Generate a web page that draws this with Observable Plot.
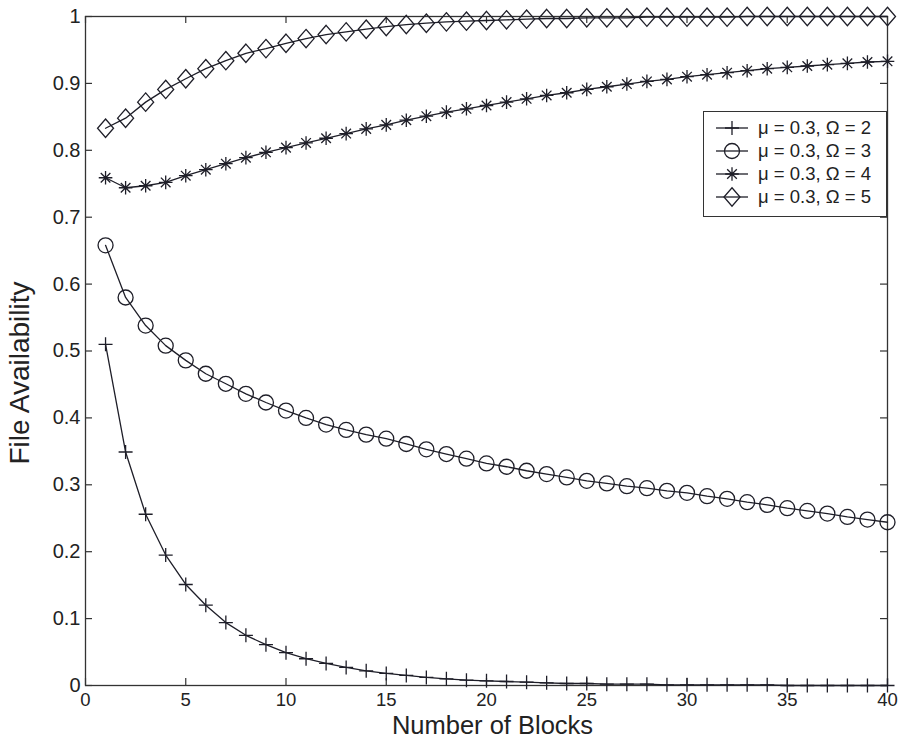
<!DOCTYPE html>
<html>
<head>
<meta charset="utf-8">
<script src="https://cdn.jsdelivr.net/npm/d3@7"></script>
<script src="https://cdn.jsdelivr.net/npm/@observablehq/plot@0.6"></script>
<style>
  html, body { margin: 0; padding: 0; background: #fff; }
  #wrap { position: relative; width: 902px; height: 741px; font-family: "Liberation Sans", Arial, Helvetica, sans-serif; }
  #legend { position: absolute; left: 703px; top: 111px; width: 184px; height: 106px; box-sizing: border-box;
            border: 1.3px solid #333; background: #fff; padding-top: 4px; }
  .row { display: flex; align-items: center; height: 23px; padding-left: 11px; }
  .row svg { display: block; }
  .row span { margin-left: 9px; font-size: 18.5px; color: #222; white-space: nowrap; }
</style>
</head>
<body>
<div id="wrap"></div>
<script>
// ---- data ----
const blocks = [1,2,3,4,5,6,7,8,9,10,11,12,13,14,15,16,17,18,19,20,21,22,23,24,25,26,27,28,29,30,31,32,33,34,35,36,37,38,39,40];
const omega2 = [0.510,0.349,0.256,0.195,0.151,0.120,0.094,0.075,0.061,0.049,0.040,0.033,0.027,0.022,0.018,0.015,0.012,0.010,0.008,0.007,0.006,0.005,0.004,0.003,0.003,0.002,0.002,0.002,0.001,0.001,0.001,0.001,0.001,0.001,0.000,0.000,0.000,0.000,0.000,0.000];
const omega3 = [0.658,0.580,0.538,0.508,0.486,0.466,0.451,0.436,0.423,0.411,0.400,0.390,0.382,0.375,0.369,0.361,0.353,0.346,0.339,0.332,0.327,0.321,0.316,0.311,0.306,0.302,0.298,0.295,0.291,0.288,0.283,0.279,0.274,0.270,0.265,0.261,0.257,0.252,0.248,0.244];
const omega4 = [0.759,0.744,0.747,0.752,0.762,0.771,0.780,0.789,0.797,0.804,0.811,0.818,0.825,0.832,0.838,0.845,0.851,0.857,0.862,0.867,0.872,0.877,0.882,0.886,0.891,0.895,0.899,0.903,0.906,0.910,0.913,0.916,0.919,0.922,0.924,0.926,0.928,0.930,0.932,0.933];
const omega5 = [0.833,0.848,0.872,0.891,0.907,0.922,0.934,0.945,0.952,0.960,0.967,0.973,0.977,0.981,0.985,0.988,0.990,0.992,0.993,0.994,0.995,0.996,0.997,0.997,0.998,0.998,0.998,0.999,0.999,0.999,0.999,0.999,1.000,1.000,1.000,1.000,1.000,1.000,1.000,1.000];
const seriesLabels = ["μ = 0.3, Ω = 2", "μ = 0.3, Ω = 3", "μ = 0.3, Ω = 4", "μ = 0.3, Ω = 5"];
const xTicks = [0,5,10,15,20,25,30,35,40];
const yTicks = [0,0.1,0.2,0.3,0.4,0.5,0.6,0.7,0.8,0.9,1];
const xTitle = "Number of Blocks";
const yTitle = "File Availability";

// ---- marker shapes (MATLAB-like, stroke only) ----
const rad = size => Math.sqrt(size / Math.PI);
const symPlus = { draw(c, s) { const r = rad(s); c.moveTo(-r,0); c.lineTo(r,0); c.moveTo(0,-r); c.lineTo(0,r); } };
const symCircle = { draw(c, s) { const r = rad(s); c.moveTo(r,0); c.arc(0,0,r,0,2*Math.PI); c.closePath(); } };
const symStar = { draw(c, s) { const r = rad(s), d = r / Math.SQRT2;
  c.moveTo(-r,0); c.lineTo(r,0); c.moveTo(0,-r); c.lineTo(0,r);
  c.moveTo(-d,-d); c.lineTo(d,d); c.moveTo(-d,d); c.lineTo(d,-d); } };
const symDiamond = { draw(c, s) { const r = rad(s), h = r * 1.15;
  c.moveTo(0,-h); c.lineTo(r,0); c.lineTo(0,h); c.lineTo(-r,0); c.closePath(); } };

const valueSets = [omega2, omega3, omega4, omega5];
const symbols = [symPlus, symCircle, symStar, symDiamond];
const radii = [7, 7.5, 6.8, 8];
const ink = "#1e1e28";

const rows = [];
valueSets.forEach((vals, k) => blocks.forEach((b, i) => rows.push({series: seriesLabels[k], k, x: b, y: vals[i]})));

const tickLenY = 7 / 669;   // inward tick length in y units
const tickLenX = 7 / 20.05; // inward tick length in x units

const chart = Plot.plot({
  width: 902, height: 741,
  marginLeft: 85, marginRight: 15, marginTop: 16, marginBottom: 56,
  x: {domain: [0, 40]},
  y: {domain: [0, 1]},
  style: {fontFamily: '"Liberation Sans", Arial, Helvetica, sans-serif', fontSize: "18px", color: "#222", background: "#fff"},
  marks: [
    Plot.axisX(xTicks, {tickSize: 0, tickPadding: 7, fontSize: 18.5, label: null, tickFormat: d => String(d)}),
    Plot.axisY(yTicks, {tickSize: 0, tickPadding: 5, fontSize: 20, label: null, tickFormat: d => String(d)}),
    Plot.ruleX(xTicks, {x: d => d, y1: 0, y2: tickLenY, stroke: "#333", strokeWidth: 1.2}),
    Plot.ruleX(xTicks, {x: d => d, y1: 1 - tickLenY, y2: 1, stroke: "#333", strokeWidth: 1.2}),
    Plot.ruleY(yTicks, {y: d => d, x1: 0, x2: tickLenX, stroke: "#333", strokeWidth: 1.2}),
    Plot.ruleY(yTicks, {y: d => d, x1: 40 - tickLenX, x2: 40, stroke: "#333", strokeWidth: 1.2}),
    Plot.frame({stroke: "#333", strokeWidth: 1.3}),
    Plot.line(rows, {x: "x", y: "y", z: "series", stroke: ink, strokeWidth: 1.3}),
    ...symbols.map((sym, k) => Plot.dot(rows.filter(d => d.k === k), {x: "x", y: "y", symbol: sym, r: radii[k], stroke: ink, fill: "none", strokeWidth: 1.3})),
    Plot.text([xTitle], {frameAnchor: "bottom", textAnchor: "middle", lineAnchor: "middle", dx: 6, dy: 40, fontSize: 25.5, fill: "#222"}),
    Plot.text([yTitle], {frameAnchor: "left", textAnchor: "middle", lineAnchor: "middle", dx: -65, dy: 22, rotate: -90, fontSize: 28, fill: "#222"})
  ]
});

const wrap = document.getElementById("wrap");
wrap.appendChild(chart);

// ---- legend ----
const legend = document.createElement("div");
legend.id = "legend";
seriesLabels.forEach((lab, k) => {
  const row = document.createElement("div");
  row.className = "row";
  const svg = d3.create("svg").attr("width", 34).attr("height", 22);
  svg.append("line").attr("x1", 1).attr("x2", 33).attr("y1", 11).attr("y2", 11).attr("stroke", ink).attr("stroke-width", 1.3);
  svg.append("path").attr("transform", "translate(17,11)")
     .attr("d", d3.symbol(symbols[k], Math.PI * radii[k] * radii[k])())
     .attr("fill", "none").attr("stroke", ink).attr("stroke-width", 1.3);
  row.appendChild(svg.node());
  const span = document.createElement("span");
  span.textContent = lab;
  row.appendChild(span);
  legend.appendChild(row);
});
wrap.appendChild(legend);
</script>
</body>
</html>
